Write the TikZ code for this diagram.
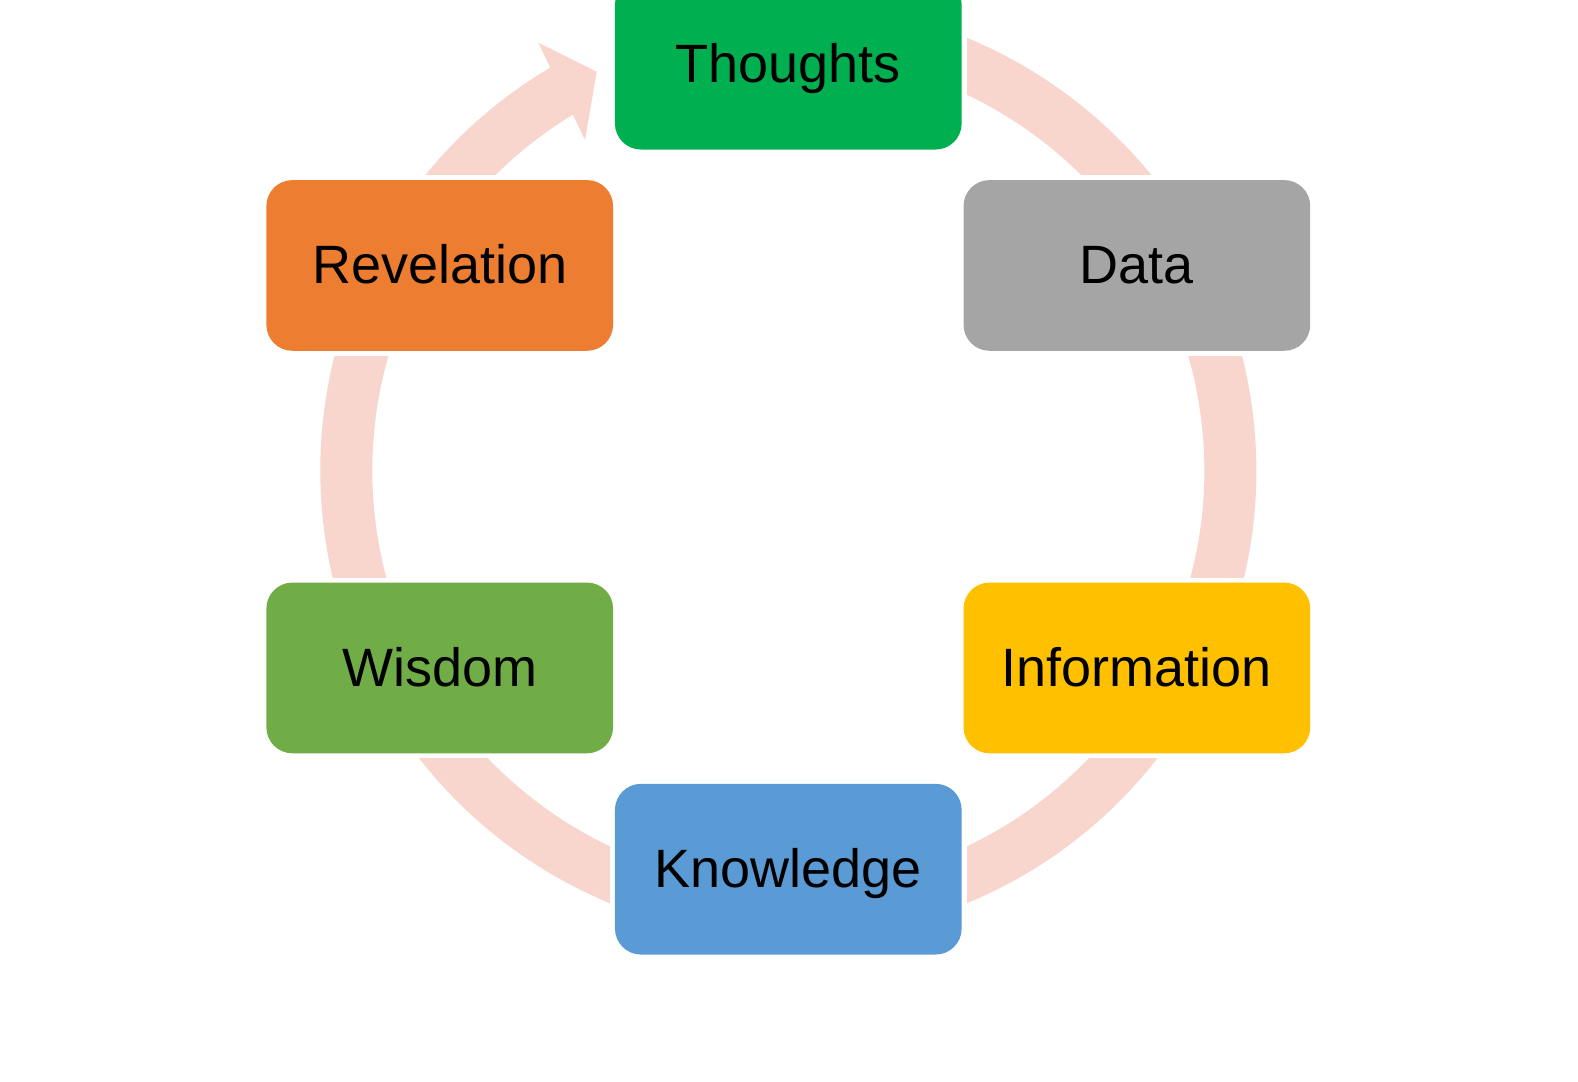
\documentclass[tikz,border=0pt]{standalone}
\usepackage{fontspec}
\setmainfont{Liberation Sans}
\definecolor{ringpink}{HTML}{F8D6CD}
\definecolor{cT}{HTML}{00B050}
\definecolor{cD}{HTML}{A5A5A5}
\definecolor{cI}{HTML}{FFC000}
\definecolor{cK}{HTML}{5B9BD5}
\definecolor{cW}{HTML}{70AD47}
\definecolor{cR}{HTML}{ED7D31}
\begin{document}
\begin{tikzpicture}[x=1pt,y=1pt,
  box/.style={rectangle, rounded corners=26pt, minimum width=346.7pt,
    minimum height=170.7pt, inner sep=0pt, text height=40pt, text depth=3pt,
    font=\fontsize{54}{64}\selectfont, text=black},
  maskbox/.style={rectangle, fill=white, minimum width=356.7pt,
    minimum height=180.7pt, inner sep=0pt},
  ringband/.style={draw=ringpink, line width=52pt},
  ringhead/.style={fill=ringpink}]
\useasboundingbox (0,0) rectangle (1578,1081);
\clip (0,0) rectangle (1578,1081);
\fill[white] (0,0) rectangle (1578,1081);
\coordinate (C) at (788.3,614.3);
\coordinate (RC) at (788.3,610.5);
\foreach \a/\n in {90/T,30/D,-30/I,-90/K,-150/W,150/Rv}{
  \path (C) ++(\a:402.5) coordinate (p\n);
}
% ring band
\draw[ringband] (RC) ++(100:442) arc[start angle=100, end angle=-239.6, radius=442];
% masks
\foreach \n in {T,D,I,K,W,Rv}{
  \node[maskbox] (m\n) at (p\n) {};
}
% arrowhead
\coordinate (hb1) at (538.3,1038.3);
\coordinate (htip) at (596.7,1009.3);
\coordinate (hb2) at (585,941);
\fill[ringhead] (hb1) -- (htip) -- (hb2) -- cycle;
% boxes
\node[box, fill=cT] (thoughts) at (pT) {Thoughts};
\node[box, fill=cD] (data) at (pD) {Data};
\node[box, fill=cI] (information) at (pI) {Information};
\node[box, fill=cK] (knowledge) at (pK) {Knowledge};
\node[box, fill=cW] (wisdom) at (pW) {Wisdom};
\node[box, fill=cR] (revelation) at (pRv) {Revelation};
\end{tikzpicture}
\end{document}
